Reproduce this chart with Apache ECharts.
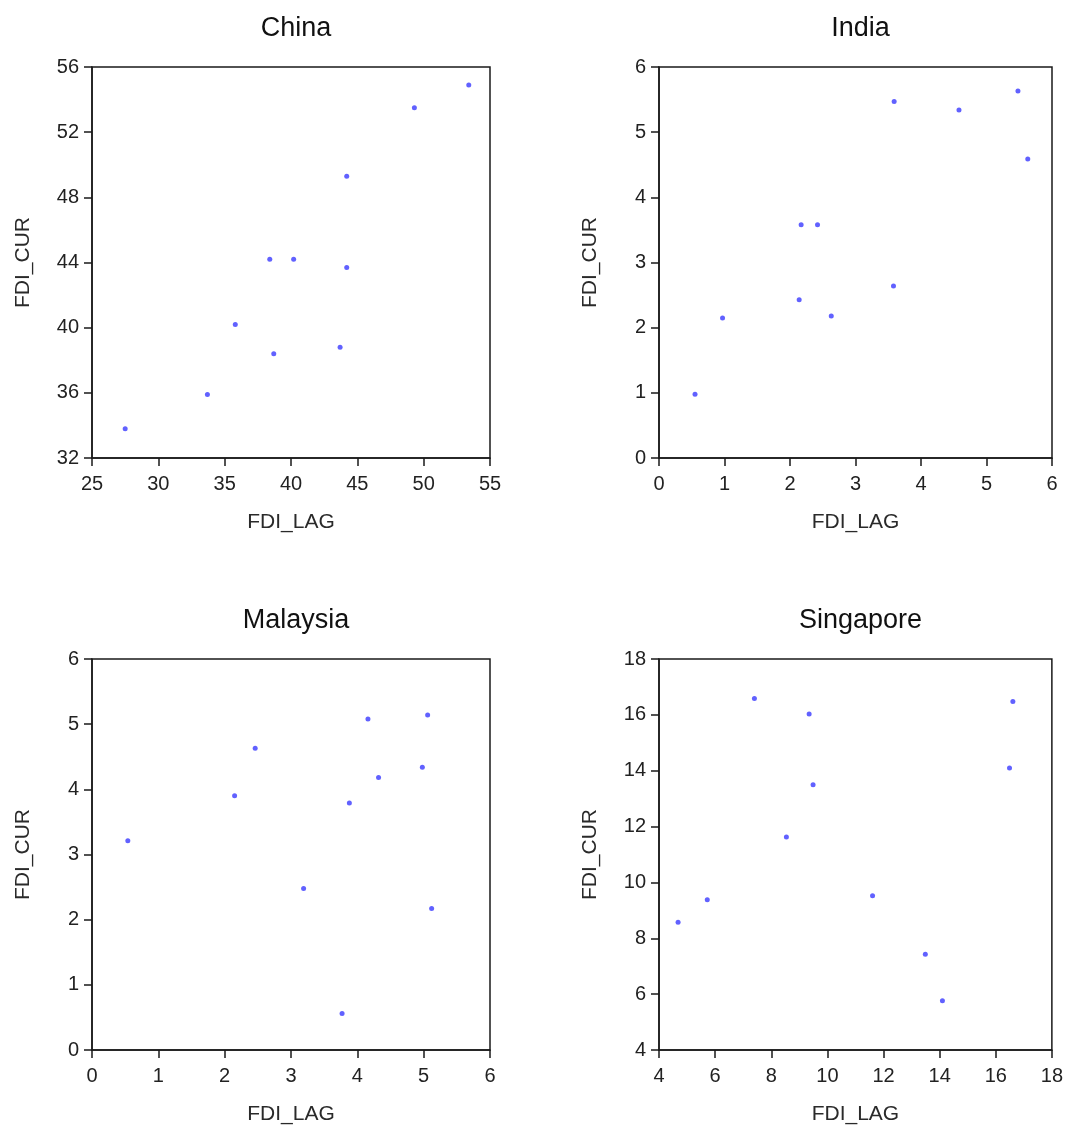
<!DOCTYPE html>
<html>
<head>
<meta charset="utf-8">
<script src="https://cdn.jsdelivr.net/npm/echarts@6/dist/echarts.min.js"></script>
<style>
  html, body { margin: 0; padding: 0; background: #fff; }
  #chart { width: 1066px; height: 1128px; }
</style>
</head>
<body>
<div id="chart"></div>
<script>
// panel titles
const countries = ['China', 'India', 'Malaysia', 'Singapore']

// FDI_LAG (x) and FDI_CUR (y) for each country
const chinaLag = [27.5, 33.7, 35.8, 38.4, 38.7, 40.2, 43.7, 44.2, 44.2, 49.3, 53.4]
const chinaCur = [33.8, 35.9, 40.2, 44.2, 38.4, 44.2, 38.8, 49.3, 43.7, 53.5, 54.9]

const indiaLag = [0.55, 0.97, 2.14, 2.17, 2.42, 2.63, 3.58, 3.59, 4.58, 5.48, 5.63]
const indiaCur = [0.98, 2.15, 2.43, 3.58, 3.58, 2.18, 2.64, 5.47, 5.34, 5.63, 4.59]

const malaysiaLag = [0.54, 2.15, 2.46, 3.19, 3.77, 3.88, 4.16, 4.32, 4.98, 5.06, 5.12]
const malaysiaCur = [3.21, 3.90, 4.63, 2.48, 0.56, 3.79, 5.08, 4.18, 4.34, 5.14, 2.17]

const singaporeLag = [4.68, 5.72, 7.40, 8.54, 9.35, 9.49, 11.61, 13.49, 14.10, 16.49, 16.61]
const singaporeCur = [8.57, 9.38, 16.59, 11.63, 16.03, 13.50, 9.52, 7.43, 5.76, 14.10, 16.48]

// axis ranges [min, max, interval]
const xRanges = [[25, 55, 5], [0, 6, 1], [0, 6, 1], [4, 18, 2]]
const yRanges = [[32, 56, 4], [0, 6, 1], [0, 6, 1], [4, 18, 2]]

const lags = [chinaLag, indiaLag, malaysiaLag, singaporeLag]
const curs = [chinaCur, indiaCur, malaysiaCur, singaporeCur]

const chart = echarts.init(document.getElementById('chart'))

const grids = [
  { left: 92, top: 67, width: 398, height: 391 },
  { left: 659, top: 67, width: 393, height: 391 },
  { left: 92, top: 659, width: 398, height: 391 },
  { left: 659, top: 659, width: 393, height: 391 },
]

const font = 'Liberation Sans, Arial, sans-serif'
const axisColor = '#1a1a1a'

const option = {
  backgroundColor: '#fff',
  title: countries.map((name, i) => ({
    text: name,
    left: grids[i].left + grids[i].width / 2,
    top: grids[i].top - 57,
    textAlign: 'center',
    textStyle: { fontFamily: font, fontSize: 27, fontWeight: 'normal', color: '#111' },
  })),
  grid: grids.map(g => ({
    ...g,
    show: true,
    borderColor: axisColor,
    borderWidth: 1.5,
    backgroundColor: 'transparent',
  })),
  xAxis: xRanges.map((r, i) => ({
    type: 'value',
    gridIndex: i,
    min: r[0],
    max: r[1],
    interval: r[2],
    name: 'FDI_LAG',
    nameLocation: 'middle',
    nameGap: 54,
    nameTextStyle: { fontFamily: font, fontSize: 21, color: '#2a2a2a' },
    axisLine: { show: true, lineStyle: { color: axisColor, width: 1.5 } },
    axisTick: { show: true, length: 8, lineStyle: { color: axisColor, width: 1.5 } },
    axisLabel: { fontFamily: font, fontSize: 20, color: '#222', margin: 16 },
    splitLine: { show: false },
  })),
  yAxis: yRanges.map((r, i) => ({
    type: 'value',
    gridIndex: i,
    min: r[0],
    max: r[1],
    interval: r[2],
    name: 'FDI_CUR',
    nameLocation: 'middle',
    nameGap: 58,
    nameTextStyle: { fontFamily: font, fontSize: 21, color: '#2a2a2a' },
    axisLine: { show: true, lineStyle: { color: axisColor, width: 1.5 } },
    axisTick: { show: true, length: 8, lineStyle: { color: axisColor, width: 1.5 } },
    axisLabel: { fontFamily: font, fontSize: 20, color: '#222', margin: 13 },
    splitLine: { show: false },
  })),
  series: countries.map((name, i) => ({
    name,
    type: 'scatter',
    xAxisIndex: i,
    yAxisIndex: i,
    symbol: 'circle',
    symbolSize: 5,
    itemStyle: { color: '#3a3aff' },
    data: lags[i].map((x, k) => [x, curs[i][k]]),
  })),
}

chart.setOption(option)
</script>
</body>
</html>
